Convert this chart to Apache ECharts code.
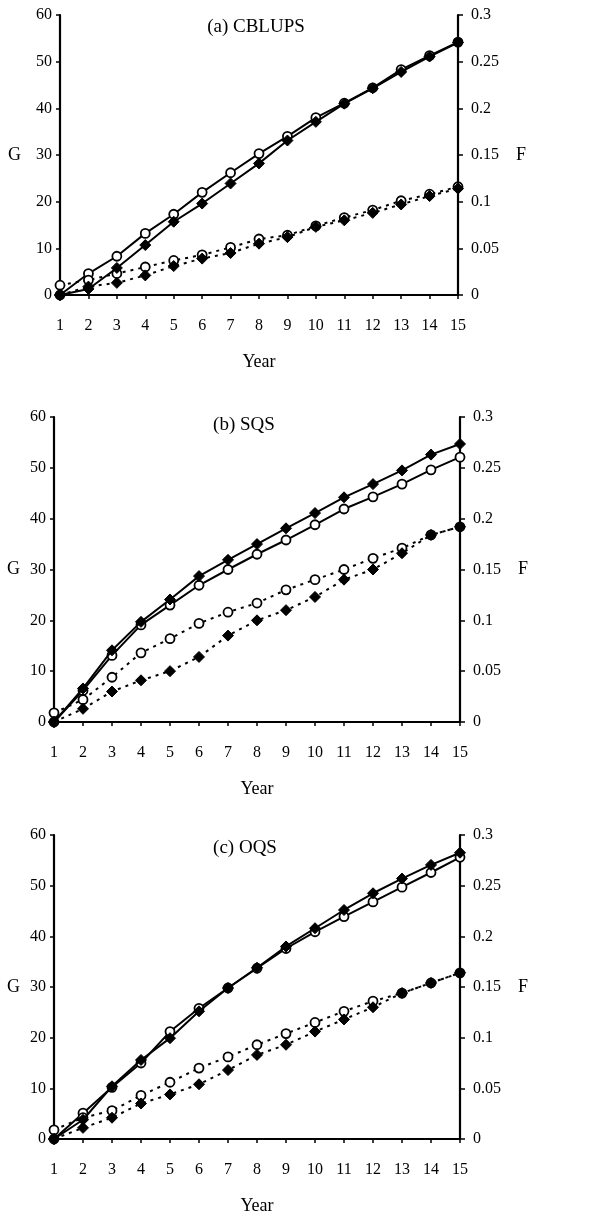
<!DOCTYPE html>
<html>
<head>
<meta charset="utf-8">
<script src="https://cdn.jsdelivr.net/npm/echarts@6/dist/echarts.min.js"></script>
<style>
  html, body { margin: 0; padding: 0; background: #fff; }
  #grafica { width: 607px; height: 1220px; }
</style>
</head>
<body>
<div id="grafica"></div>
<script>
let years = ['1','2','3','4','5','6','7','8','9','10','11','12','13','14','15'];
let panelTitles = ['(a) CBLUPS', '(b) SQS', '(c) OQS'];

// G, solid lines (left axis)
let gCircleA  = [0, 4.6, 8.3, 13.2, 17.3, 22.0, 26.2, 30.3, 34.0, 38.0, 41.1, 44.4, 48.3, 51.3, 54.2];
let gDiamondA = [0, 1.3, 5.8, 10.7, 15.7, 19.6, 23.9, 28.2, 33.1, 37.1, 41.0, 44.3, 47.8, 51.1, 54.1];
let gCircleB  = [0, 6.2, 13.1, 19.1, 23.0, 26.9, 30.0, 33.0, 35.8, 38.8, 41.9, 44.3, 46.8, 49.6, 52.1];
let gDiamondB = [0, 6.6, 14.1, 19.7, 24.1, 28.7, 31.9, 35.0, 38.1, 41.1, 44.2, 46.8, 49.5, 52.6, 54.7];
let gCircleC  = [0, 5.1, 10.2, 15.0, 21.2, 25.8, 29.8, 33.7, 37.6, 40.9, 43.9, 46.8, 49.7, 52.6, 55.6];
let gDiamondC = [0, 3.8, 10.4, 15.6, 19.9, 25.2, 29.8, 33.8, 38.0, 41.6, 45.2, 48.5, 51.4, 54.1, 56.5];

// F, dashed lines (right axis)
let fCircleA  = [0.0105, 0.016, 0.023, 0.030, 0.037, 0.043, 0.051, 0.060, 0.064, 0.074, 0.083, 0.091, 0.101, 0.108, 0.116];
let fDiamondA = [0, 0.009, 0.013, 0.021, 0.031, 0.039, 0.045, 0.055, 0.062, 0.073, 0.080, 0.088, 0.097, 0.106, 0.114];
let fCircleB  = [0.009, 0.022, 0.044, 0.068, 0.082, 0.097, 0.108, 0.117, 0.130, 0.140, 0.150, 0.161, 0.171, 0.184, 0.192];
let fDiamondB = [0, 0.013, 0.030, 0.041, 0.050, 0.064, 0.085, 0.100, 0.110, 0.123, 0.140, 0.150, 0.166, 0.184, 0.192];
let fCircleC  = [0.009, 0.021, 0.028, 0.043, 0.056, 0.070, 0.081, 0.093, 0.104, 0.115, 0.126, 0.136, 0.144, 0.154, 0.164];
let fDiamondC = [0, 0.011, 0.021, 0.035, 0.044, 0.054, 0.068, 0.083, 0.093, 0.106, 0.118, 0.130, 0.144, 0.154, 0.164];

let panels = [
  { g1: gCircleA, g2: gDiamondA, f1: fCircleA, f2: fDiamondA },
  { g1: gCircleB, g2: gDiamondB, f1: fCircleB, f2: fDiamondB },
  { g1: gCircleC, g2: gDiamondC, f1: fCircleC, f2: fDiamondC }
];

let fuente = 'Liberation Serif, Times New Roman, serif';

let grids = [
  { left: 60, right: 149, top: 15, height: 280 },
  { left: 54, right: 147, top: 417, height: 305 },
  { left: 54, right: 147, top: 835, height: 304 }
];
let titlePos = [[256, 27], [244, 425], [245, 848]];

let xAxes = [];
let yAxes = [];
let series = [];
let graphics = [];

let lineaEje = { show: true, lineStyle: { color: '#000', width: 2.2 } };

grids.forEach((g, i) => {
  xAxes.push({
    type: 'category',
    gridIndex: i,
    data: years,
    boundaryGap: false,
    name: 'Year',
    nameLocation: 'middle',
    nameGap: 58,
    nameTextStyle: { fontFamily: fuente, fontSize: 18, color: '#000' },
    axisLine: lineaEje,
    axisTick: { show: true, alignWithLabel: true, length: 4, lineStyle: { color: '#000', width: 1.5 } },
    axisLabel: { fontFamily: fuente, fontSize: 16, color: '#000', margin: 23, interval: 0 },
    splitLine: { show: false }
  });
  yAxes.push({
    type: 'value',
    gridIndex: i,
    position: 'left',
    min: 0, max: 60, interval: 10,
    name: 'G',
    nameLocation: 'middle',
    nameRotate: 0,
    nameGap: i === 0 ? 39 : 34,
    nameTextStyle: { fontFamily: fuente, fontSize: 18, color: '#000' },
    axisLine: lineaEje,
    axisTick: { show: true, length: 4, lineStyle: { color: '#000', width: 1.5 } },
    axisLabel: { fontFamily: fuente, fontSize: 16, color: '#000', margin: 8 },
    splitLine: { show: false }
  });
  yAxes.push({
    type: 'value',
    gridIndex: i,
    position: 'right',
    min: 0, max: 0.3, interval: 0.05,
    name: 'F',
    nameLocation: 'middle',
    nameRotate: 0,
    nameGap: 58,
    nameTextStyle: { fontFamily: fuente, fontSize: 18, color: '#000' },
    axisLine: lineaEje,
    axisTick: { show: true, length: 5, lineStyle: { color: '#000', width: 1.5 } },
    axisLabel: { fontFamily: fuente, fontSize: 16, color: '#000', margin: 13 },
    splitLine: { show: false }
  });

  let p = panels[i];
  let circulo = { color: '#fff', borderColor: '#000', borderWidth: 1.8 };
  let diamante = { color: '#000', borderColor: '#000', borderWidth: 1 };
  series.push({
    type: 'line', xAxisIndex: i, yAxisIndex: 2 * i, data: p.g1,
    symbol: 'circle', symbolSize: 9, showAllSymbol: true,
    lineStyle: { color: '#000', width: 2 }, itemStyle: circulo, z: 3, animation: false
  });
  series.push({
    type: 'line', xAxisIndex: i, yAxisIndex: 2 * i, data: p.g2,
    symbol: 'diamond', symbolSize: 11, showAllSymbol: true,
    lineStyle: { color: '#000', width: 2 }, itemStyle: diamante, z: 4, animation: false
  });
  series.push({
    type: 'line', xAxisIndex: i, yAxisIndex: 2 * i + 1, data: p.f1,
    symbol: 'circle', symbolSize: 9, showAllSymbol: true,
    lineStyle: { color: '#000', width: 2, type: [3, 5] }, itemStyle: circulo, z: 3, animation: false
  });
  series.push({
    type: 'line', xAxisIndex: i, yAxisIndex: 2 * i + 1, data: p.f2,
    symbol: 'diamond', symbolSize: 11, showAllSymbol: true,
    lineStyle: { color: '#000', width: 2, type: [3, 5] }, itemStyle: diamante, z: 4, animation: false
  });

  graphics.push({
    type: 'text',
    x: titlePos[i][0],
    y: titlePos[i][1],
    style: {
      text: panelTitles[i],
      fontFamily: fuente,
      fontSize: 19,
      fill: '#000',
      textAlign: 'center',
      textVerticalAlign: 'middle'
    }
  });
});

let chartDom = document.getElementById('grafica');
let myChart = echarts.init(chartDom, null, { renderer: 'canvas' });

let option = {
  backgroundColor: '#fff',
  animation: false,
  grid: grids,
  xAxis: xAxes,
  yAxis: yAxes,
  series: series,
  graphic: graphics
};

myChart.setOption(option);
</script>
</body>
</html>
